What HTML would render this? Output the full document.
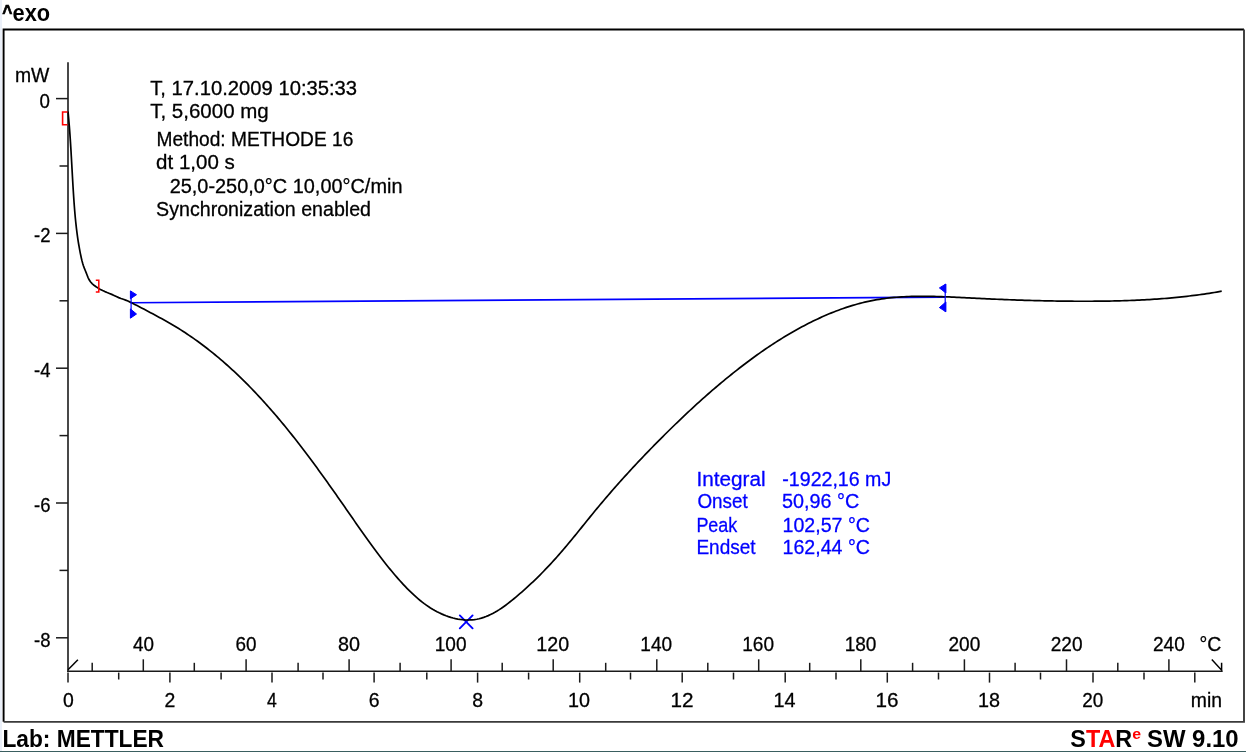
<!DOCTYPE html>
<html><head><meta charset="utf-8"><style>
html,body{margin:0;padding:0;background:#fff;}
body{width:1246px;height:752px;overflow:hidden;position:relative;}
svg{position:absolute;left:0;top:0;will-change:transform;filter:blur(0.3px);}
text{font-family:"Liberation Sans", sans-serif;}
</style></head><body>
<svg width="1246" height="752" viewBox="0 0 1246 752">
<rect x="0" y="0" width="1246" height="752" fill="#ffffff"/>
<path d="M3.6 721.85 V29.5 H1244" fill="none" stroke="#000" stroke-width="1.9"/>
<path d="M3.6 721.85 H1244 V29.5" fill="none" stroke="#3a3a3a" stroke-width="1.9"/>
<line x1="68" y1="62.3" x2="68" y2="672" stroke="#1a1a1a" stroke-width="1.6"/>
<line x1="56.0" y1="98.60" x2="68" y2="98.60" stroke="#1a1a1a" stroke-width="1.5"/>
<line x1="59.5" y1="166.00" x2="68" y2="166.00" stroke="#1a1a1a" stroke-width="1.5"/>
<line x1="56.0" y1="233.40" x2="68" y2="233.40" stroke="#1a1a1a" stroke-width="1.5"/>
<line x1="59.5" y1="300.80" x2="68" y2="300.80" stroke="#1a1a1a" stroke-width="1.5"/>
<line x1="56.0" y1="368.20" x2="68" y2="368.20" stroke="#1a1a1a" stroke-width="1.5"/>
<line x1="59.5" y1="435.60" x2="68" y2="435.60" stroke="#1a1a1a" stroke-width="1.5"/>
<line x1="56.0" y1="503.00" x2="68" y2="503.00" stroke="#1a1a1a" stroke-width="1.5"/>
<line x1="59.5" y1="570.40" x2="68" y2="570.40" stroke="#1a1a1a" stroke-width="1.5"/>
<line x1="56.0" y1="637.80" x2="68" y2="637.80" stroke="#1a1a1a" stroke-width="1.5"/>
<line x1="67.2" y1="671.2" x2="1222.5" y2="671.2" stroke="#1a1a1a" stroke-width="1.6"/>
<line x1="92.20" y1="662.8" x2="92.20" y2="671" stroke="#1a1a1a" stroke-width="1.5"/>
<line x1="143.30" y1="659.3" x2="143.30" y2="671" stroke="#1a1a1a" stroke-width="1.5"/>
<line x1="194.30" y1="662.8" x2="194.30" y2="671" stroke="#1a1a1a" stroke-width="1.5"/>
<line x1="246.10" y1="659.3" x2="246.10" y2="671" stroke="#1a1a1a" stroke-width="1.5"/>
<line x1="298.10" y1="662.8" x2="298.10" y2="671" stroke="#1a1a1a" stroke-width="1.5"/>
<line x1="349.10" y1="659.3" x2="349.10" y2="671" stroke="#1a1a1a" stroke-width="1.5"/>
<line x1="400.10" y1="662.8" x2="400.10" y2="671" stroke="#1a1a1a" stroke-width="1.5"/>
<line x1="451.10" y1="659.3" x2="451.10" y2="671" stroke="#1a1a1a" stroke-width="1.5"/>
<line x1="502.20" y1="662.8" x2="502.20" y2="671" stroke="#1a1a1a" stroke-width="1.5"/>
<line x1="553.20" y1="659.3" x2="553.20" y2="671" stroke="#1a1a1a" stroke-width="1.5"/>
<line x1="605.70" y1="662.8" x2="605.70" y2="671" stroke="#1a1a1a" stroke-width="1.5"/>
<line x1="656.80" y1="659.3" x2="656.80" y2="671" stroke="#1a1a1a" stroke-width="1.5"/>
<line x1="707.80" y1="662.8" x2="707.80" y2="671" stroke="#1a1a1a" stroke-width="1.5"/>
<line x1="758.70" y1="659.3" x2="758.70" y2="671" stroke="#1a1a1a" stroke-width="1.5"/>
<line x1="809.70" y1="662.8" x2="809.70" y2="671" stroke="#1a1a1a" stroke-width="1.5"/>
<line x1="860.80" y1="659.3" x2="860.80" y2="671" stroke="#1a1a1a" stroke-width="1.5"/>
<line x1="912.60" y1="662.8" x2="912.60" y2="671" stroke="#1a1a1a" stroke-width="1.5"/>
<line x1="964.40" y1="659.3" x2="964.40" y2="671" stroke="#1a1a1a" stroke-width="1.5"/>
<line x1="1015.10" y1="662.8" x2="1015.10" y2="671" stroke="#1a1a1a" stroke-width="1.5"/>
<line x1="1066.50" y1="659.3" x2="1066.50" y2="671" stroke="#1a1a1a" stroke-width="1.5"/>
<line x1="1117.80" y1="662.8" x2="1117.80" y2="671" stroke="#1a1a1a" stroke-width="1.5"/>
<line x1="1168.90" y1="659.3" x2="1168.90" y2="671" stroke="#1a1a1a" stroke-width="1.5"/>
<line x1="68.00" y1="672.6" x2="68.00" y2="682.6" stroke="#1a1a1a" stroke-width="1.5"/>
<line x1="118.70" y1="672.6" x2="118.70" y2="679.5" stroke="#1a1a1a" stroke-width="1.5"/>
<line x1="169.90" y1="672.6" x2="169.90" y2="682.6" stroke="#1a1a1a" stroke-width="1.5"/>
<line x1="221.10" y1="672.6" x2="221.10" y2="679.5" stroke="#1a1a1a" stroke-width="1.5"/>
<line x1="272.00" y1="672.6" x2="272.00" y2="682.6" stroke="#1a1a1a" stroke-width="1.5"/>
<line x1="323.00" y1="672.6" x2="323.00" y2="679.5" stroke="#1a1a1a" stroke-width="1.5"/>
<line x1="374.10" y1="672.6" x2="374.10" y2="682.6" stroke="#1a1a1a" stroke-width="1.5"/>
<line x1="426.80" y1="672.6" x2="426.80" y2="679.5" stroke="#1a1a1a" stroke-width="1.5"/>
<line x1="477.60" y1="672.6" x2="477.60" y2="682.6" stroke="#1a1a1a" stroke-width="1.5"/>
<line x1="528.60" y1="672.6" x2="528.60" y2="679.5" stroke="#1a1a1a" stroke-width="1.5"/>
<line x1="579.70" y1="672.6" x2="579.70" y2="682.6" stroke="#1a1a1a" stroke-width="1.5"/>
<line x1="630.50" y1="672.6" x2="630.50" y2="679.5" stroke="#1a1a1a" stroke-width="1.5"/>
<line x1="682.20" y1="672.6" x2="682.20" y2="682.6" stroke="#1a1a1a" stroke-width="1.5"/>
<line x1="733.50" y1="672.6" x2="733.50" y2="679.5" stroke="#1a1a1a" stroke-width="1.5"/>
<line x1="785.20" y1="672.6" x2="785.20" y2="682.6" stroke="#1a1a1a" stroke-width="1.5"/>
<line x1="836.00" y1="672.6" x2="836.00" y2="679.5" stroke="#1a1a1a" stroke-width="1.5"/>
<line x1="887.30" y1="672.6" x2="887.30" y2="682.6" stroke="#1a1a1a" stroke-width="1.5"/>
<line x1="938.50" y1="672.6" x2="938.50" y2="679.5" stroke="#1a1a1a" stroke-width="1.5"/>
<line x1="989.50" y1="672.6" x2="989.50" y2="682.6" stroke="#1a1a1a" stroke-width="1.5"/>
<line x1="1040.50" y1="672.6" x2="1040.50" y2="679.5" stroke="#1a1a1a" stroke-width="1.5"/>
<line x1="1093.00" y1="672.6" x2="1093.00" y2="682.6" stroke="#1a1a1a" stroke-width="1.5"/>
<line x1="1144.00" y1="672.6" x2="1144.00" y2="679.5" stroke="#1a1a1a" stroke-width="1.5"/>
<line x1="1194.80" y1="672.6" x2="1194.80" y2="682.6" stroke="#1a1a1a" stroke-width="1.5"/>
<line x1="68" y1="669.8" x2="77.9" y2="659.7" stroke="#000" stroke-width="1.5"/>
<polyline points="1211.8,659.6 1221.6,670.2 1221.6,662.8" fill="none" stroke="#000" stroke-width="1.5"/>
<line x1="130.6" y1="302.7" x2="945" y2="297.1" stroke="#0000ff" stroke-width="1.6"/>
<path d="M459.8 615.4 L472.6 628.3 M472.6 615.4 L459.8 628.3" stroke="#0000ff" stroke-width="1.9" stroke-linecap="round"/>
<path d="M68.03 111.53 L68.27 114.01 L68.50 116.49 L68.72 118.97 L68.93 121.46 L69.14 123.95 L69.34 126.44 L69.53 128.93 L69.72 131.42 L69.90 133.92 L70.07 136.41 L70.24 138.91 L70.41 141.41 L70.57 143.91 L70.72 146.41 L70.88 148.92 L71.03 151.42 L71.17 153.93 L71.32 156.43 L71.46 158.94 L71.60 161.44 L71.74 163.95 L71.88 166.46 L72.02 168.97 L72.16 171.47 L72.30 173.98 L72.44 176.49 L72.58 179.00 L72.73 181.50 L72.87 184.01 L73.02 186.52 L73.17 189.02 L73.33 191.53 L73.49 194.03 L73.65 196.53 L73.82 199.03 L73.99 201.53 L74.17 204.03 L74.36 206.53 L74.55 209.03 L74.76 211.52 L74.97 214.01 L75.19 216.50 L75.43 218.99 L75.68 221.48 L75.94 223.96 L76.21 226.45 L76.50 228.92 L76.81 231.40 L77.13 233.88 L77.46 236.35 L77.82 238.82 L78.20 241.28 L78.59 243.75 L79.01 246.21 L79.45 248.66 L79.91 251.12 L80.39 253.57 L80.90 256.01 L81.43 258.45 L82.01 260.89 L82.66 263.32 L83.42 265.74 L84.31 268.15 L85.27 270.55 L86.24 272.93 L87.15 275.29 L88.09 277.58 L89.15 279.77 L90.45 281.80 L92.09 283.64 L94.01 285.28 L96.09 286.78 L98.24 288.15 L100.42 289.40 L102.63 290.55 L104.87 291.60 L107.14 292.56 L109.42 293.46 L111.73 294.38 L114.04 295.41 L116.36 296.53 L118.68 297.62 L120.99 298.55 L123.30 299.31 L125.61 300.11 L127.91 301.07 L130.20 302.14 L132.48 303.25 L134.76 304.39 L137.04 305.55 L139.30 306.72 L141.56 307.90 L143.81 309.09 L146.05 310.27 L148.29 311.45 L150.52 312.63 L152.74 313.81 L154.95 315.00 L157.15 316.18 L159.35 317.38 L161.53 318.57 L163.71 319.78 L165.88 321.00 L168.04 322.22 L170.19 323.46 L172.33 324.72 L174.46 325.99 L176.58 327.27 L178.69 328.57 L180.80 329.89 L182.89 331.23 L184.97 332.58 L187.04 333.95 L189.10 335.34 L191.16 336.74 L193.20 338.16 L195.23 339.60 L197.25 341.05 L199.27 342.52 L201.27 344.00 L203.26 345.49 L205.25 347.00 L207.22 348.53 L209.19 350.07 L211.14 351.62 L213.09 353.19 L215.02 354.77 L216.95 356.36 L218.86 357.97 L220.77 359.58 L222.67 361.21 L224.55 362.86 L226.43 364.51 L228.30 366.18 L230.16 367.85 L232.01 369.54 L233.85 371.24 L235.68 372.95 L237.50 374.67 L239.31 376.40 L241.11 378.14 L242.90 379.89 L244.69 381.65 L246.46 383.42 L248.23 385.20 L249.98 386.98 L251.73 388.78 L253.47 390.58 L255.20 392.40 L256.92 394.22 L258.63 396.05 L260.34 397.89 L262.04 399.73 L263.72 401.59 L265.41 403.45 L267.08 405.31 L268.74 407.19 L270.40 409.07 L272.05 410.96 L273.70 412.86 L275.33 414.76 L276.96 416.67 L278.58 418.59 L280.20 420.51 L281.80 422.44 L283.41 424.38 L285.00 426.32 L286.59 428.26 L288.17 430.22 L289.75 432.17 L291.32 434.13 L292.88 436.10 L294.44 438.07 L295.99 440.05 L297.53 442.03 L299.07 444.02 L300.61 446.01 L302.14 448.00 L303.66 450.00 L305.18 452.00 L306.70 454.00 L308.21 456.01 L309.71 458.02 L311.21 460.03 L312.70 462.05 L314.19 464.07 L315.68 466.09 L317.16 468.12 L318.64 470.15 L320.11 472.18 L321.58 474.21 L323.05 476.24 L324.51 478.28 L325.97 480.31 L327.42 482.35 L328.88 484.39 L330.32 486.43 L331.77 488.47 L333.21 490.51 L334.65 492.56 L336.09 494.60 L337.52 496.64 L338.95 498.68 L340.38 500.73 L341.81 502.77 L343.23 504.81 L344.65 506.85 L346.07 508.90 L347.49 510.94 L348.90 512.98 L350.32 515.01 L351.73 517.05 L353.14 519.09 L354.55 521.12 L355.96 523.15 L357.37 525.18 L358.79 527.21 L360.20 529.24 L361.62 531.26 L363.04 533.28 L364.47 535.30 L365.90 537.32 L367.33 539.33 L368.77 541.35 L370.22 543.35 L371.68 545.36 L373.14 547.36 L374.62 549.36 L376.10 551.35 L377.59 553.35 L379.10 555.33 L380.61 557.32 L382.14 559.30 L383.68 561.27 L385.23 563.24 L386.80 565.21 L388.39 567.17 L389.99 569.13 L391.60 571.08 L393.23 573.03 L394.88 574.98 L396.55 576.91 L398.24 578.85 L399.95 580.77 L401.67 582.68 L403.42 584.57 L405.19 586.45 L406.98 588.31 L408.80 590.14 L410.64 591.95 L412.50 593.73 L414.39 595.47 L416.30 597.18 L418.24 598.85 L420.21 600.49 L422.21 602.07 L424.23 603.61 L426.29 605.10 L428.37 606.54 L430.48 607.92 L432.63 609.24 L434.80 610.50 L437.01 611.70 L439.24 612.83 L441.50 613.89 L443.79 614.87 L446.09 615.78 L448.41 616.61 L450.75 617.35 L453.10 618.01 L455.46 618.58 L457.83 619.06 L460.21 619.44 L462.59 619.73 L464.96 619.92 L467.34 620.00 L469.71 619.97 L472.08 619.83 L474.44 619.59 L476.78 619.22 L479.11 618.74 L481.42 618.13 L483.72 617.41 L486.00 616.57 L488.26 615.64 L490.50 614.60 L492.72 613.48 L494.93 612.27 L497.11 610.98 L499.28 609.63 L501.43 608.21 L503.55 606.73 L505.66 605.21 L507.75 603.64 L509.82 602.04 L511.86 600.41 L513.89 598.75 L515.89 597.08 L517.87 595.40 L519.83 593.72 L521.77 592.03 L523.69 590.33 L525.60 588.63 L527.48 586.92 L529.34 585.21 L531.19 583.49 L533.01 581.76 L534.82 580.02 L536.62 578.28 L538.40 576.53 L540.16 574.78 L541.91 573.01 L543.65 571.24 L545.37 569.46 L547.08 567.67 L548.78 565.87 L550.46 564.07 L552.14 562.25 L553.80 560.43 L555.46 558.59 L557.10 556.75 L558.74 554.89 L560.37 553.03 L561.99 551.15 L563.60 549.27 L565.21 547.37 L566.81 545.47 L568.41 543.56 L570.00 541.65 L571.59 539.72 L573.17 537.80 L574.75 535.86 L576.33 533.93 L577.90 531.99 L579.48 530.04 L581.05 528.10 L582.62 526.15 L584.20 524.20 L585.77 522.25 L587.35 520.30 L588.93 518.35 L590.51 516.41 L592.09 514.46 L593.68 512.52 L595.27 510.58 L596.87 508.65 L598.47 506.71 L600.08 504.79 L601.70 502.87 L603.31 500.95 L604.94 499.04 L606.57 497.13 L608.20 495.22 L609.84 493.32 L611.48 491.43 L613.13 489.54 L614.78 487.65 L616.44 485.77 L618.11 483.89 L619.77 482.02 L621.45 480.15 L623.12 478.28 L624.81 476.42 L626.49 474.57 L628.18 472.71 L629.88 470.87 L631.58 469.02 L633.28 467.18 L634.99 465.35 L636.70 463.51 L638.42 461.69 L640.14 459.86 L641.87 458.05 L643.60 456.23 L645.33 454.42 L647.07 452.61 L648.81 450.81 L650.55 449.01 L652.30 447.22 L654.05 445.43 L655.81 443.64 L657.57 441.86 L659.33 440.08 L661.10 438.31 L662.87 436.54 L664.64 434.77 L666.42 433.01 L668.20 431.25 L669.99 429.50 L671.77 427.75 L673.57 426.01 L675.36 424.26 L677.16 422.53 L678.96 420.80 L680.77 419.07 L682.58 417.34 L684.39 415.63 L686.21 413.91 L688.04 412.20 L689.86 410.50 L691.70 408.80 L693.53 407.11 L695.37 405.42 L697.22 403.74 L699.07 402.06 L700.92 400.39 L702.79 398.72 L704.65 397.06 L706.52 395.41 L708.40 393.76 L710.28 392.12 L712.17 390.48 L714.06 388.85 L715.96 387.23 L717.86 385.61 L719.77 384.00 L721.68 382.40 L723.61 380.80 L725.53 379.21 L727.47 377.63 L729.41 376.05 L731.35 374.48 L733.31 372.92 L735.26 371.37 L737.23 369.82 L739.20 368.28 L741.18 366.75 L743.17 365.22 L745.16 363.70 L747.16 362.20 L749.17 360.70 L751.18 359.21 L753.20 357.73 L755.23 356.26 L757.27 354.79 L759.31 353.34 L761.36 351.90 L763.42 350.47 L765.49 349.05 L767.57 347.64 L769.65 346.25 L771.74 344.86 L773.84 343.49 L775.95 342.12 L778.06 340.77 L780.19 339.44 L782.32 338.11 L784.46 336.80 L786.62 335.51 L788.77 334.22 L790.94 332.95 L793.12 331.70 L795.31 330.46 L797.50 329.23 L799.71 328.02 L801.92 326.82 L804.15 325.64 L806.38 324.48 L808.62 323.33 L810.87 322.20 L813.13 321.09 L815.40 319.99 L817.67 318.92 L819.96 317.86 L822.25 316.82 L824.55 315.81 L826.86 314.81 L829.17 313.84 L831.50 312.89 L833.83 311.96 L836.17 311.06 L838.51 310.17 L840.86 309.32 L843.22 308.48 L845.59 307.67 L847.96 306.89 L850.34 306.14 L852.72 305.41 L855.11 304.70 L857.51 304.03 L859.91 303.38 L862.32 302.76 L864.74 302.18 L867.16 301.62 L869.58 301.09 L872.01 300.59 L874.44 300.13 L876.88 299.69 L879.33 299.29 L881.78 298.92 L884.23 298.57 L886.69 298.25 L889.15 297.96 L891.62 297.70 L894.09 297.46 L896.56 297.25 L899.04 297.06 L901.52 296.89 L904.00 296.75 L906.49 296.63 L908.98 296.52 L911.47 296.44 L913.97 296.37 L916.46 296.33 L918.97 296.30 L921.47 296.28 L923.97 296.29 L926.48 296.30 L928.99 296.33 L931.50 296.37 L934.01 296.43 L936.53 296.49 L939.04 296.57 L941.56 296.65 L944.07 296.75 L946.59 296.85 L949.11 296.95 L951.63 297.07 L954.15 297.18 L956.67 297.31 L959.19 297.43 L961.71 297.56 L964.23 297.69 L966.75 297.82 L969.27 297.95 L971.79 298.08 L974.31 298.21 L976.83 298.33 L979.35 298.45 L981.86 298.58 L984.38 298.70 L986.89 298.81 L989.41 298.93 L991.92 299.04 L994.44 299.15 L996.95 299.26 L999.46 299.37 L1001.97 299.47 L1004.48 299.57 L1006.99 299.67 L1009.50 299.76 L1012.01 299.86 L1014.52 299.95 L1017.03 300.04 L1019.54 300.12 L1022.05 300.21 L1024.55 300.29 L1027.06 300.36 L1029.57 300.44 L1032.07 300.51 L1034.58 300.58 L1037.08 300.64 L1039.58 300.70 L1042.09 300.76 L1044.59 300.82 L1047.09 300.87 L1049.60 300.92 L1052.10 300.97 L1054.60 301.01 L1057.10 301.05 L1059.60 301.09 L1062.10 301.12 L1064.60 301.15 L1067.10 301.18 L1069.60 301.20 L1072.10 301.22 L1074.60 301.24 L1077.09 301.25 L1079.59 301.26 L1082.09 301.26 L1084.59 301.26 L1087.08 301.26 L1089.58 301.25 L1092.08 301.24 L1094.57 301.22 L1097.07 301.20 L1099.56 301.18 L1102.06 301.15 L1104.55 301.12 L1107.05 301.08 L1109.54 301.04 L1112.04 300.99 L1114.53 300.94 L1117.03 300.88 L1119.52 300.81 L1122.01 300.74 L1124.51 300.66 L1127.00 300.58 L1129.49 300.49 L1131.99 300.40 L1134.48 300.30 L1136.97 300.19 L1139.46 300.07 L1141.96 299.95 L1144.45 299.82 L1146.94 299.68 L1149.43 299.53 L1151.92 299.38 L1154.42 299.22 L1156.91 299.05 L1159.40 298.87 L1161.89 298.68 L1164.38 298.49 L1166.88 298.28 L1169.37 298.07 L1171.86 297.85 L1174.35 297.61 L1176.84 297.37 L1179.33 297.12 L1181.83 296.86 L1184.32 296.59 L1186.81 296.31 L1189.30 296.02 L1191.79 295.71 L1194.29 295.40 L1196.78 295.08 L1199.27 294.74 L1201.76 294.39 L1204.25 294.04 L1206.75 293.67 L1209.24 293.29 L1211.73 292.89 L1214.22 292.49 L1216.72 292.07 L1219.21 291.64 L1221.70 291.20" fill="none" stroke="#000" stroke-width="1.7" stroke-linejoin="round"/>
<polyline points="67.5,112 62.6,112 62.6,124.8 67.5,124.8" fill="none" stroke="#ff0000" stroke-width="1.6"/>
<polyline points="95.8,280.3 98.8,280.3 98.8,292 95.8,292" fill="none" stroke="#ff0000" stroke-width="1.5"/>
<line x1="131.1" y1="291" x2="131.1" y2="318" stroke="#0000ff" stroke-width="1.2"/>
<polygon points="130.4,290.9 136.5,294.7 130.4,298.8" fill="#0000ff" stroke="#0000ff" stroke-width="1" stroke-linejoin="round"/>
<polygon points="130.4,308.9 136.5,314 130.4,318.2" fill="#0000ff" stroke="#0000ff" stroke-width="1" stroke-linejoin="round"/>
<line x1="945.2" y1="284" x2="945.2" y2="311.8" stroke="#0000ff" stroke-width="1.2"/>
<polygon points="945.9,284 939.4,287.9 945.9,293" fill="#0000ff" stroke="#0000ff" stroke-width="1" stroke-linejoin="round"/>
<polygon points="945.9,301.9 939.4,307.6 945.9,311.8" fill="#0000ff" stroke="#0000ff" stroke-width="1" stroke-linejoin="round"/>
<text x="14.90" y="82.40" font-size="20.5" text-anchor="start" fill="#000" font-weight="normal" textLength="34.44" lengthAdjust="spacingAndGlyphs" stroke="#000" stroke-width="0.3">mW</text>
<text x="39.60" y="107.50" font-size="20.5" text-anchor="start" fill="#000" font-weight="normal" textLength="10.41" lengthAdjust="spacingAndGlyphs" stroke="#000" stroke-width="0.3">0</text>
<text x="34.00" y="242.30" font-size="20.5" text-anchor="start" fill="#000" font-weight="normal" textLength="16.43" lengthAdjust="spacingAndGlyphs" stroke="#000" stroke-width="0.3">-2</text>
<text x="34.00" y="377.10" font-size="20.5" text-anchor="start" fill="#000" font-weight="normal" textLength="16.43" lengthAdjust="spacingAndGlyphs" stroke="#000" stroke-width="0.3">-4</text>
<text x="34.00" y="511.90" font-size="20.5" text-anchor="start" fill="#000" font-weight="normal" textLength="16.43" lengthAdjust="spacingAndGlyphs" stroke="#000" stroke-width="0.3">-6</text>
<text x="34.00" y="646.70" font-size="20.5" text-anchor="start" fill="#000" font-weight="normal" textLength="16.43" lengthAdjust="spacingAndGlyphs" stroke="#000" stroke-width="0.3">-8</text>
<text x="132.90" y="651.30" font-size="20.5" text-anchor="start" fill="#000" font-weight="normal" textLength="21.01" lengthAdjust="spacingAndGlyphs" stroke="#000" stroke-width="0.3">40</text>
<text x="235.50" y="651.30" font-size="20.5" text-anchor="start" fill="#000" font-weight="normal" textLength="21.01" lengthAdjust="spacingAndGlyphs" stroke="#000" stroke-width="0.3">60</text>
<text x="338.10" y="651.30" font-size="20.5" text-anchor="start" fill="#000" font-weight="normal" textLength="22.01" lengthAdjust="spacingAndGlyphs" stroke="#000" stroke-width="0.3">80</text>
<text x="434.75" y="651.30" font-size="20.5" text-anchor="start" fill="#000" font-weight="normal" textLength="31.82" lengthAdjust="spacingAndGlyphs" stroke="#000" stroke-width="0.3">100</text>
<text x="536.28" y="651.30" font-size="20.5" text-anchor="start" fill="#000" font-weight="normal" textLength="32.82" lengthAdjust="spacingAndGlyphs" stroke="#000" stroke-width="0.3">120</text>
<text x="640.31" y="651.30" font-size="20.5" text-anchor="start" fill="#000" font-weight="normal" textLength="31.82" lengthAdjust="spacingAndGlyphs" stroke="#000" stroke-width="0.3">140</text>
<text x="742.24" y="651.30" font-size="20.5" text-anchor="start" fill="#000" font-weight="normal" textLength="31.82" lengthAdjust="spacingAndGlyphs" stroke="#000" stroke-width="0.3">160</text>
<text x="844.65" y="651.30" font-size="20.5" text-anchor="start" fill="#000" font-weight="normal" textLength="31.82" lengthAdjust="spacingAndGlyphs" stroke="#000" stroke-width="0.3">180</text>
<text x="948.45" y="651.30" font-size="20.5" text-anchor="start" fill="#000" font-weight="normal" textLength="31.82" lengthAdjust="spacingAndGlyphs" stroke="#000" stroke-width="0.3">200</text>
<text x="1050.75" y="651.30" font-size="20.5" text-anchor="start" fill="#000" font-weight="normal" textLength="31.82" lengthAdjust="spacingAndGlyphs" stroke="#000" stroke-width="0.3">220</text>
<text x="1152.95" y="651.30" font-size="20.5" text-anchor="start" fill="#000" font-weight="normal" textLength="31.82" lengthAdjust="spacingAndGlyphs" stroke="#000" stroke-width="0.3">240</text>
<text x="1199.50" y="651.30" font-size="20.5" text-anchor="start" fill="#000" font-weight="normal" textLength="21.82" lengthAdjust="spacingAndGlyphs" stroke="#000" stroke-width="0.3">°C</text>
<text x="62.90" y="706.80" font-size="20.5" text-anchor="start" fill="#000" font-weight="normal" textLength="10.81" lengthAdjust="spacingAndGlyphs" stroke="#000" stroke-width="0.3">0</text>
<text x="164.60" y="706.80" font-size="20.5" text-anchor="start" fill="#000" font-weight="normal" textLength="10.81" lengthAdjust="spacingAndGlyphs" stroke="#000" stroke-width="0.3">2</text>
<text x="266.90" y="706.80" font-size="20.5" text-anchor="start" fill="#000" font-weight="normal" textLength="9.81" lengthAdjust="spacingAndGlyphs" stroke="#000" stroke-width="0.3">4</text>
<text x="368.80" y="706.80" font-size="20.5" text-anchor="start" fill="#000" font-weight="normal" textLength="10.81" lengthAdjust="spacingAndGlyphs" stroke="#000" stroke-width="0.3">6</text>
<text x="472.30" y="706.80" font-size="20.5" text-anchor="start" fill="#000" font-weight="normal" textLength="10.81" lengthAdjust="spacingAndGlyphs" stroke="#000" stroke-width="0.3">8</text>
<text x="567.90" y="706.80" font-size="20.5" text-anchor="start" fill="#000" font-weight="normal" textLength="22.01" lengthAdjust="spacingAndGlyphs" stroke="#000" stroke-width="0.3">10</text>
<text x="670.40" y="706.80" font-size="20.5" text-anchor="start" fill="#000" font-weight="normal" textLength="23.01" lengthAdjust="spacingAndGlyphs" stroke="#000" stroke-width="0.3">12</text>
<text x="773.40" y="706.80" font-size="20.5" text-anchor="start" fill="#000" font-weight="normal" textLength="22.01" lengthAdjust="spacingAndGlyphs" stroke="#000" stroke-width="0.3">14</text>
<text x="875.50" y="706.80" font-size="20.5" text-anchor="start" fill="#000" font-weight="normal" textLength="23.01" lengthAdjust="spacingAndGlyphs" stroke="#000" stroke-width="0.3">16</text>
<text x="977.90" y="706.80" font-size="20.5" text-anchor="start" fill="#000" font-weight="normal" textLength="22.01" lengthAdjust="spacingAndGlyphs" stroke="#000" stroke-width="0.3">18</text>
<text x="1082.20" y="706.80" font-size="20.5" text-anchor="start" fill="#000" font-weight="normal" textLength="21.01" lengthAdjust="spacingAndGlyphs" stroke="#000" stroke-width="0.3">20</text>
<text x="1190.80" y="707.20" font-size="20.5" text-anchor="start" fill="#000" font-weight="normal" textLength="31.25" lengthAdjust="spacingAndGlyphs" stroke="#000" stroke-width="0.3">min</text>
<text x="150.20" y="95.20" font-size="20.5" text-anchor="start" fill="#000" font-weight="normal" textLength="206.95" lengthAdjust="spacingAndGlyphs" stroke="#000" stroke-width="0.3">T, 17.10.2009 10:35:33</text>
<text x="150.20" y="118.40" font-size="20.5" text-anchor="start" fill="#000" font-weight="normal" textLength="118.52" lengthAdjust="spacingAndGlyphs" stroke="#000" stroke-width="0.3">T, 5,6000 mg</text>
<text x="156.50" y="146.00" font-size="20.5" text-anchor="start" fill="#000" font-weight="normal" textLength="196.77" lengthAdjust="spacingAndGlyphs" stroke="#000" stroke-width="0.3">Method: METHODE 16</text>
<text x="156.10" y="169.40" font-size="20.5" text-anchor="start" fill="#000" font-weight="normal" textLength="78.64" lengthAdjust="spacingAndGlyphs" stroke="#000" stroke-width="0.3">dt 1,00 s</text>
<text x="169.70" y="193.00" font-size="20.5" text-anchor="start" fill="#000" font-weight="normal" textLength="232.77" lengthAdjust="spacingAndGlyphs" stroke="#000" stroke-width="0.3">25,0-250,0°C 10,00°C/min</text>
<text x="156.10" y="215.50" font-size="20.5" text-anchor="start" fill="#000" font-weight="normal" textLength="214.93" lengthAdjust="spacingAndGlyphs" stroke="#000" stroke-width="0.3">Synchronization enabled</text>
<text x="696.40" y="485.60" font-size="20.5" text-anchor="start" fill="#0000ff" font-weight="normal" textLength="69.19" lengthAdjust="spacingAndGlyphs" stroke="#0000ff" stroke-width="0.3">Integral</text>
<text x="782.30" y="485.60" font-size="20.5" text-anchor="start" fill="#0000ff" font-weight="normal" textLength="108.95" lengthAdjust="spacingAndGlyphs" stroke="#0000ff" stroke-width="0.3">-1922,16 mJ</text>
<text x="697.40" y="508.40" font-size="20.5" text-anchor="start" fill="#0000ff" font-weight="normal" textLength="50.30" lengthAdjust="spacingAndGlyphs" stroke="#0000ff" stroke-width="0.3">Onset</text>
<text x="782.00" y="508.40" font-size="20.5" text-anchor="start" fill="#0000ff" font-weight="normal" textLength="77.20" lengthAdjust="spacingAndGlyphs" stroke="#0000ff" stroke-width="0.3">50,96 °C</text>
<text x="696.40" y="531.50" font-size="20.5" text-anchor="start" fill="#0000ff" font-weight="normal" textLength="40.93" lengthAdjust="spacingAndGlyphs" stroke="#0000ff" stroke-width="0.3">Peak</text>
<text x="782.50" y="531.50" font-size="20.5" text-anchor="start" fill="#0000ff" font-weight="normal" textLength="87.41" lengthAdjust="spacingAndGlyphs" stroke="#0000ff" stroke-width="0.3">102,57 °C</text>
<text x="696.40" y="554.40" font-size="20.5" text-anchor="start" fill="#0000ff" font-weight="normal" textLength="59.23" lengthAdjust="spacingAndGlyphs" stroke="#0000ff" stroke-width="0.3">Endset</text>
<text x="782.50" y="554.40" font-size="20.5" text-anchor="start" fill="#0000ff" font-weight="normal" textLength="87.41" lengthAdjust="spacingAndGlyphs" stroke="#0000ff" stroke-width="0.3">162,44 °C</text>
<text x="2.25" y="18.60" font-size="21" text-anchor="start" fill="#000" font-weight="bold" textLength="10.12" lengthAdjust="spacingAndGlyphs" stroke="#000" stroke-width="0.7">^</text>
<text x="12.60" y="20.90" font-size="23.5" text-anchor="start" fill="#000" font-weight="bold" textLength="37.57" lengthAdjust="spacingAndGlyphs">exo</text>
<text x="2.40" y="746.70" font-size="23.5" text-anchor="start" fill="#000" font-weight="bold" textLength="161.64" lengthAdjust="spacingAndGlyphs">Lab: METTLER</text>
<text x="1070.30" y="746.80" font-size="23.5" text-anchor="start" fill="#000" font-weight="bold" textLength="61.88" lengthAdjust="spacingAndGlyphs">S<tspan fill="#ff0000">TA</tspan>R</text>
<text x="1132.30" y="738.70" font-size="14" text-anchor="start" fill="#ff0000" font-weight="bold" textLength="8.83" lengthAdjust="spacingAndGlyphs">e</text>
<text x="1147.00" y="746.80" font-size="23.5" text-anchor="start" fill="#000" font-weight="bold" textLength="91.58" lengthAdjust="spacingAndGlyphs">SW 9.10</text>
</svg>
<div style="position:absolute;left:0;top:0;width:2px;height:751px;background:#ebf0f9"></div>
<div style="position:absolute;left:0;top:751px;width:1246px;height:1px;background:#3a5e60"></div>
</body></html>
